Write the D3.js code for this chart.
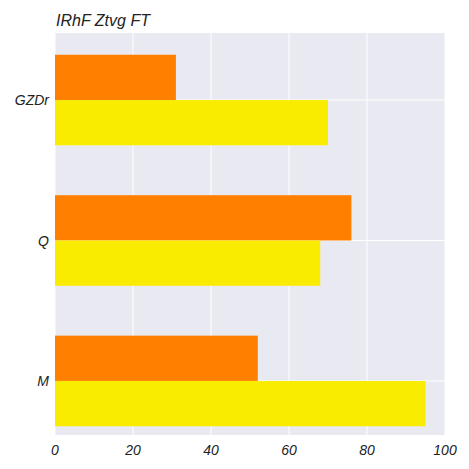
<!DOCTYPE html><html><head><meta charset="utf-8"><script src="https://d3js.org/d3.v7.min.js"></script>
<style>body{margin:0;background:#fff}</style></head><body><svg id="c" width="469" height="469"></svg>
<script>
const categories=["GZDr","Q","M"];
const series=["orange","yellow"];
const orangeVals=[31,76,52];
const yellowVals=[70,68,95];
const colors=["#ff8000","#f9ec00"];
const xTicks=[0,20,40,60,80,100];
const title="IRhF Ztvg  FT";
const svg=d3.select("#c");
const L=55,R=445,T=33,B=435;
const x=d3.scaleLinear().domain([0,100]).range([L,R]);
const y=d3.scaleBand().domain(categories).range([29.75,451.25]).paddingInner(0.355).paddingOuter(0.178);
const sub=d3.scaleBand().domain(series).range([0,y.bandwidth()]);
svg.append("rect").attr("x",L).attr("y",T).attr("width",R-L).attr("height",B-T).attr("fill","#e9e9f1");
svg.selectAll(".g").data(xTicks).enter().append("line").attr("x1",d=>x(d)).attr("x2",d=>x(d)).attr("y1",T).attr("y2",B).attr("stroke","#fff").attr("stroke-width",1);
svg.selectAll(".h").data(categories).enter().append("line").attr("x1",L).attr("x2",R).attr("y1",d=>y(d)+y.bandwidth()/2).attr("y2",d=>y(d)+y.bandwidth()/2).attr("stroke","#fff");
const vals=[orangeVals,yellowVals];
series.forEach((s,si)=>{
 svg.selectAll(".b"+si).data(categories).enter().append("rect")
  .attr("x",x(0)).attr("y",(d)=>y(d)+sub(s)).attr("height",sub.bandwidth())
  .attr("width",(d,i)=>x(vals[si][i])-x(0)).attr("fill",colors[si]);
});
const f="Liberation Sans, Arial, sans-serif";
svg.selectAll(".xt").data(xTicks).enter().append("text").attr("x",d=>x(d)).attr("y",455).attr("text-anchor","middle")
 .attr("font-family",f).attr("font-style","italic").attr("font-size",14).attr("fill","#222").text(d=>d);
svg.selectAll(".yt").data(categories).enter().append("text").attr("x",49).attr("y",d=>y(d)+y.bandwidth()/2+5).attr("text-anchor","end")
 .attr("font-family",f).attr("font-style","italic").attr("font-size",14).attr("fill","#222").text(d=>d);
svg.append("text").attr("x",56).attr("y",26).attr("font-family",f).attr("font-style","italic").attr("font-size",16).attr("fill","#222").text(title);
</script></body></html>
